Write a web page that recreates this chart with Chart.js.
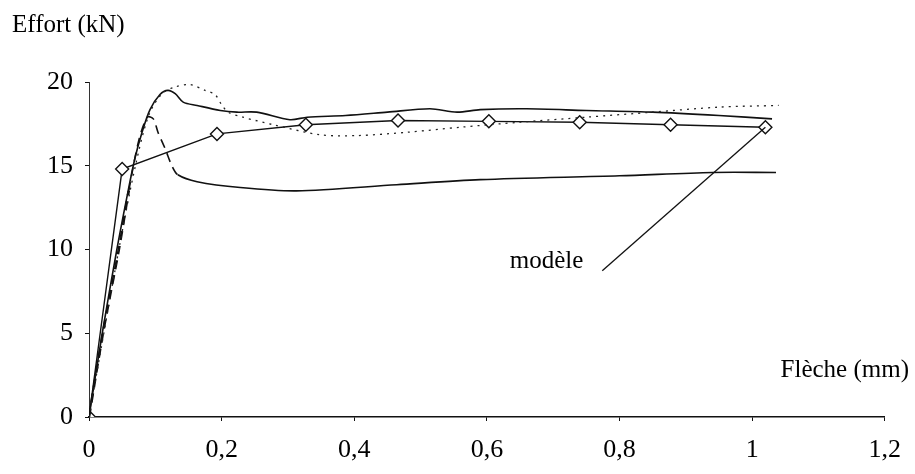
<!DOCTYPE html>
<html>
<head>
<meta charset="utf-8">
<script src="https://cdn.jsdelivr.net/npm/chart.js@4"></script>
<style>
  html, body { margin: 0; padding: 0; background: #fff; }
  #wrap { width: 915px; height: 474px; position: relative; }
</style>
</head>
<body>
<div id="wrap"><canvas id="myChart" width="915" height="474"></canvas></div>
<script>
// modele (diamonds)
var modelX = [0, 0.05, 0.193, 0.327, 0.466, 0.603, 0.74, 0.877, 1.02];
var modelY = [0, 14.8, 16.9, 17.45, 17.7, 17.65, 17.6, 17.45, 17.3];

// upper solid test curve
var upperX = [0, 0.02, 0.042, 0.057, 0.069, 0.08, 0.092, 0.107, 0.119, 0.13, 0.142, 0.163, 0.198, 0.223, 0.253, 0.303, 0.329, 0.387, 0.45, 0.514, 0.555, 0.59, 0.66, 0.75, 0.85, 0.95, 1.03];
var upperY = [0, 5, 10, 13.1, 15.4, 17, 18.35, 19.25, 19.5, 19.3, 18.8, 18.6, 18.3, 18.2, 18.2, 17.75, 17.9, 18.0, 18.2, 18.4, 18.2, 18.35, 18.4, 18.3, 18.2, 18.0, 17.8];

// lower curve (dashed start then solid)
var lowerX = [0, 0.021, 0.045, 0.06, 0.075, 0.088, 0.097, 0.104, 0.115, 0.125, 0.134, 0.163, 0.228, 0.313, 0.464, 0.59, 0.8, 0.94, 1.036];
var lowerY = [0, 5, 10, 13.5, 16.5, 17.9, 17.8, 17.0, 16.0, 15.0, 14.46, 14.05, 13.7, 13.5, 13.87, 14.17, 14.4, 14.6, 14.6];

// dotted curve
var dotX = [0, 0.045, 0.07, 0.09, 0.11, 0.13, 0.152, 0.175, 0.19, 0.2, 0.21, 0.232, 0.278, 0.348, 0.404, 0.48, 0.56, 0.65, 0.75, 0.85, 0.95, 1.04];
var dotY = [0, 10, 15, 18, 19.3, 19.7, 19.85, 19.5, 19.25, 18.65, 18.2, 17.9, 17.45, 16.85, 16.8, 17.0, 17.3, 17.6, 17.9, 18.2, 18.5, 18.6];

// label pointer
var pointerX = [0.774, 1.02];
var pointerY = [8.73, 17.3];
var labelX = 0.69, labelY = 9.26;

var xTicks = [0, 0.2, 0.4, 0.6, 0.8, 1, 1.2];
var yTicks = [0, 5, 10, 15, 20];

function pts(xs, ys) {
  return xs.map(function (x, i) { return { x: x, y: ys[i] }; });
}

var serif = '"Liberation Serif", "Times New Roman", serif';

var textPlugin = {
  id: 'texts',
  afterDraw: function (chart) {
    var c = chart.ctx;
    var xs = chart.scales.x, ys = chart.scales.y;
    c.save();
    c.fillStyle = '#000';
    c.font = '25px ' + serif;
    c.textBaseline = 'middle';
    c.textAlign = 'left';
    c.fillText('Effort (kN)', 12, 25);
    c.textAlign = 'right';
    c.fillText('Flèche (mm)', 909, 370);
    c.textAlign = 'center';
    c.fillText('modèle', xs.getPixelForValue(labelX), ys.getPixelForValue(labelY));
    c.restore();
  }
};

const ctx = document.getElementById('myChart');

var chart = new Chart(ctx, {
  type: 'scatter',
  data: {
    datasets: [
      {
        label: 'dotted',
        data: pts(dotX, dotY),
        showLine: true,
        borderColor: '#222',
        borderWidth: 1.3,
        borderDash: [2, 5],
        pointRadius: 0,
        tension: 0.3
      },
      {
        label: 'upper',
        data: pts(upperX, upperY),
        showLine: true,
        borderColor: '#111',
        borderWidth: 1.6,
        pointRadius: 0,
        tension: 0.3
      },
      {
        label: 'lower',
        data: pts(lowerX, lowerY),
        showLine: true,
        borderColor: '#111',
        borderWidth: 1.6,
        pointRadius: 0,
        tension: 0.3,
        segment: {
          borderDash: function (s) { return s.p1.parsed.x <= 0.134 ? [9, 6] : undefined; },
          borderWidth: function (s) { return s.p1.parsed.x <= 0.06 ? 2.6 : 1.6; }
        }
      },
      {
        label: 'pointer',
        data: pts(pointerX, pointerY),
        showLine: true,
        borderColor: '#111',
        borderWidth: 1.3,
        pointRadius: 0
      },
      {
        label: 'modele',
        data: pts(modelX, modelY),
        showLine: true,
        borderColor: '#111',
        borderWidth: 1.4,
        pointStyle: 'rectRot',
        pointRadius: 6.5,
        pointBackgroundColor: '#fff',
        pointBorderColor: '#111',
        pointBorderWidth: 1.4
      }
    ]
  },
  options: {
    responsive: false,
    animation: false,
    layout: { padding: { top: 82, right: 30, left: 0, bottom: 0 } },
    plugins: { legend: { display: false }, tooltip: { enabled: false } },
    scales: {
      x: {
        type: 'linear',
        min: 0,
        max: 1.2,
        afterBuildTicks: function (s) { s.ticks = xTicks.map(function (v) { return { value: v }; }); },
        afterFit: function (s) { s.height = 57; },
        grid: { display: true, drawOnChartArea: false, tickLength: 4, color: '#111' },
        border: { display: true, color: '#111', width: 1.4 },
        ticks: {
          color: '#000',
          padding: 14,
          maxRotation: 0,
          autoSkip: false,
          font: { family: serif, size: 26 },
          callback: function (v) { return String(Math.round(v * 10) / 10).replace('.', ','); }
        }
      },
      y: {
        type: 'linear',
        min: 0,
        max: 20,
        afterBuildTicks: function (s) { s.ticks = yTicks.map(function (v) { return { value: v }; }); },
        afterFit: function (s) { s.width = 89; },
        grid: { display: true, drawOnChartArea: false, tickLength: 4, color: '#111' },
        border: { display: true, color: '#333', width: 1, dash: [10, 4, 2, 4] },
        ticks: {
          color: '#000',
          padding: 12,
          autoSkip: false,
          font: { family: serif, size: 26 }
        }
      }
    }
  },
  plugins: [textPlugin]
});
</script>
</body>
</html>
